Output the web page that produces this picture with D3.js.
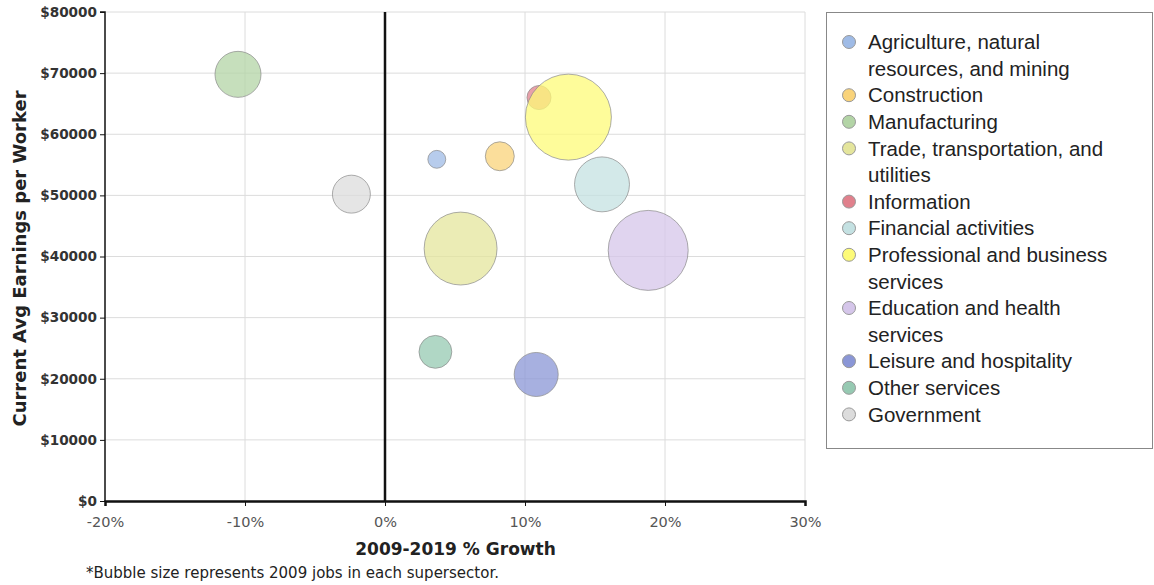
<!DOCTYPE html>
<html>
<head>
<meta charset="utf-8">
<script src="https://cdn.jsdelivr.net/npm/d3@7"></script>
<style>
  body { margin: 0; background: #fff; }
  svg { display: block; }
  text { font-family: "Liberation Sans", Arial, Helvetica, sans-serif; }
  .dv { font-family: "DejaVu Sans", Verdana, sans-serif; }
</style>
</head>
<body>
<svg id="chart" width="1154" height="585"></svg>
<script>
// ---- data ----
const sectors = [
  "Agriculture, natural resources, and mining",
  "Construction",
  "Manufacturing",
  "Trade, transportation, and utilities",
  "Information",
  "Financial activities",
  "Professional and business services",
  "Education and health services",
  "Leisure and hospitality",
  "Other services",
  "Government"
];
const legendLines = [
  ["Agriculture, natural", "resources, and mining"],
  ["Construction"],
  ["Manufacturing"],
  ["Trade, transportation, and", "utilities"],
  ["Information"],
  ["Financial activities"],
  ["Professional and business", "services"],
  ["Education and health", "services"],
  ["Leisure and hospitality"],
  ["Other services"],
  ["Government"]
];
const growth   = [0.037, 0.082, -0.105, 0.054, 0.110, 0.155, 0.131, 0.188, 0.108, 0.036, -0.024];
const earnings = [55900, 56400, 69800, 41300, 66000, 51800, 62800, 41000, 20700, 24400, 50200];
const jobs2009 = [80, 210, 530, 1330, 145, 755, 1850, 1600, 485, 270, 360];
const colors = ["#9fbbe6", "#f9d37a", "#b3d4a6", "#e4e59c", "#e0808c", "#c4e1e2",
                "#fdfb78", "#d5c6ea", "#8a96d6", "#96c9b2", "#dcdcdc"];
const xTicks = [-0.2, -0.1, 0, 0.1, 0.2, 0.3];
const yTicks = [0, 10000, 20000, 30000, 40000, 50000, 60000, 70000, 80000];

// ---- layout ----
const svg = d3.select("#chart");
const m = {left: 105, right: 805, top: 12, bottom: 501};

const x = d3.scaleLinear().domain([-0.2, 0.3]).range([m.left, m.right]);
const y = d3.scaleLinear().domain([0, 80000]).range([m.bottom, m.top]);
const r = d3.scaleSqrt().domain([0, d3.max(jobs2009)]).range([0, 43]);

// grid
const grid = svg.append("g");
grid.selectAll(".gy").data(yTicks.filter(d => d > 0)).join("line")
  .attr("x1", m.left).attr("x2", m.right)
  .attr("y1", d => y(d)).attr("y2", d => y(d))
  .attr("stroke", "#dcdcdc").attr("stroke-width", 1);
grid.selectAll(".gx").data(xTicks.filter(d => d !== -0.2 && d !== 0)).join("line")
  .attr("x1", d => x(d)).attr("x2", d => x(d))
  .attr("y1", m.top).attr("y2", m.bottom)
  .attr("stroke", "#dcdcdc").attr("stroke-width", 1);

// bubbles
const data = sectors.map((s, i) => ({s, g: growth[i], e: earnings[i], j: jobs2009[i], c: colors[i]}));
svg.append("g").selectAll("circle").data(data).join("circle")
  .attr("cx", d => x(d.g)).attr("cy", d => y(d.e)).attr("r", d => r(d.j))
  .attr("fill", d => d.c).attr("fill-opacity", 0.75)
  .attr("stroke", "#8a8a8a").attr("stroke-opacity", 0.7).attr("stroke-width", 1);

// zero line
svg.append("line")
  .attr("x1", x(0)).attr("x2", x(0)).attr("y1", m.top).attr("y2", m.bottom)
  .attr("stroke", "#111").attr("stroke-width", 2.5);

// axes
const yAxis = svg.append("g").attr("transform", `translate(${m.left},0)`)
  .call(d3.axisLeft(y).tickValues(yTicks).tickFormat(d => "$" + d).tickSize(5).tickPadding(3));
yAxis.select(".domain").attr("stroke", "#111").attr("stroke-width", 1.5).attr("d", `M-5,${m.top}H0V${m.bottom}`);
yAxis.selectAll(".tick line").attr("stroke", "#111");
yAxis.selectAll("text").attr("class", "dv").attr("font-size", 13.6).attr("font-weight", "bold").attr("fill", "#333");

const xAxis = svg.append("g").attr("transform", `translate(0,${m.bottom})`)
  .call(d3.axisBottom(x).tickValues(xTicks).tickFormat(d3.format(".0%")).tickSize(5).tickPadding(11));
xAxis.select(".domain").attr("stroke", "#111").attr("stroke-width", 2.5);
xAxis.selectAll(".tick line").attr("stroke", "#111");
xAxis.selectAll("text").attr("class", "dv").attr("font-size", 14.5).attr("fill", "#555")
  .text(d => d3.format(".0%")(d).replace("−", "-"));

// axis titles
svg.append("text").attr("class", "dv").attr("x", 455.5).attr("y", 555).attr("text-anchor", "middle")
  .attr("font-size", 17).attr("font-weight", "bold").attr("fill", "#222").text("2009-2019 % Growth");
svg.append("text").attr("class", "dv").attr("transform", `translate(26,258.5) rotate(-90)`).attr("text-anchor", "middle")
  .attr("font-size", 18).attr("font-weight", "bold").attr("fill", "#222").text("Current Avg Earnings per Worker");
svg.append("text").attr("class", "dv").attr("x", 86).attr("y", 578).attr("font-size", 15).attr("fill", "#222")
  .text("*Bubble size represents 2009 jobs in each supersector.");

// legend
const lg = svg.append("g");
lg.append("rect").attr("x", 826.5).attr("y", 12.5).attr("width", 326).attr("height", 436)
  .attr("fill", "#fff").attr("stroke", "#888").attr("stroke-width", 1);
let ly = 42;
const lineH = 26.6;
legendLines.forEach((lines, i) => {
  lg.append("circle").attr("cx", 849).attr("cy", ly).attr("r", 6.5)
    .attr("fill", colors[i]).attr("stroke", "#999").attr("stroke-width", 1);
  lines.forEach((t, k) => {
    lg.append("text").attr("x", 868).attr("y", ly + k * lineH).attr("dy", "0.35em")
      .attr("font-size", 20.5).attr("fill", "#222").text(t);
  });
  ly += lines.length * lineH;
});
</script>
</body>
</html>
